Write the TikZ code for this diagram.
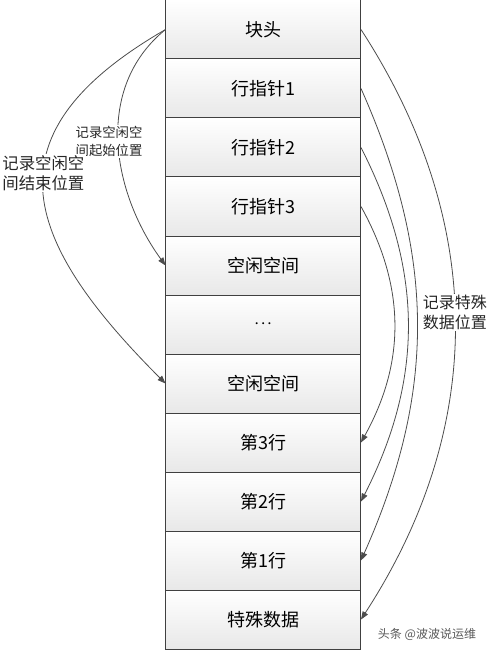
\documentclass[tikz,border=0pt]{standalone}
\usepackage{fontspec}
\setmainfont{Noto Sans CJK SC}
\usetikzlibrary{positioning, arrows.meta}

\begin{document}
\begin{tikzpicture}[x=0.75pt, y=0.75pt, node distance=0pt,
    cell/.style={draw=black!75, line width=0.75pt, top color=white, bottom color=black!9,
      minimum width=146.6pt, minimum height=44.25pt, outer sep=0pt, inner sep=0pt,
      font=\fontsize{13.5}{16}\selectfont},
    link/.style={black!70, line width=0.6pt, -{Triangle[length=6pt, width=4.5pt]}},
    note/.style={fill=white, align=left, inner sep=1pt, text=black!85}]
		\useasboundingbox (0,0) rectangle (489,-652);
		\node[cell] (head) at (263.25,-29.5) {块头};
		\node[cell] (ptr1) [below=of head] {行指针1};
		\node[cell] (ptr2) [below=of ptr1] {行指针2};
		\node[cell] (ptr3) [below=of ptr2] {行指针3};
		\node[cell] (free1) [below=of ptr3] {空闲空间};
		\node[cell] (dots) [below=of free1] {\fontsize{14}{14}\selectfont$\cdot\!\cdot\!\cdot$};
		\node[cell] (free2) [below=of dots] {空闲空间};
		\node[cell] (row3) [below=of free2] {第3行};
		\node[cell] (row2) [below=of row3] {第2行};
		\node[cell] (row1) [below=of row2] {第1行};
		\node[cell] (special) [below=of row1] {特殊数据};
		
		\path[link]
		(head.west) edge [out=219, in=126] node [note, pos=0.5, xshift=-7pt, font=\fontsize{10}{13.5}\selectfont] {记录空闲空\\间起始位置} (free1.west)
		(head.west) edge [out=210, in=135, looseness=1.5] node [note, pos=0.45, font=\fontsize{12.3}{15}\selectfont] {记录空闲空\\间结束位置} (free2.west)
		(head.east) edge [bend left=33] node [note, pos=0.48, font=\fontsize{12}{15}\selectfont] {记录特殊\\数据位置} (special.east)
		(ptr1.east) edge [bend left=24] (row1.east)
		(ptr2.east) edge [bend left=27] (row2.east)
		(ptr3.east) edge [bend left=29] (row3.east);
		
		\node[text=black!65, font=\fontsize{9}{11}\selectfont] (mark) at (427,-634) {头条 @波波说运维};
	\end{tikzpicture}
\end{document}
